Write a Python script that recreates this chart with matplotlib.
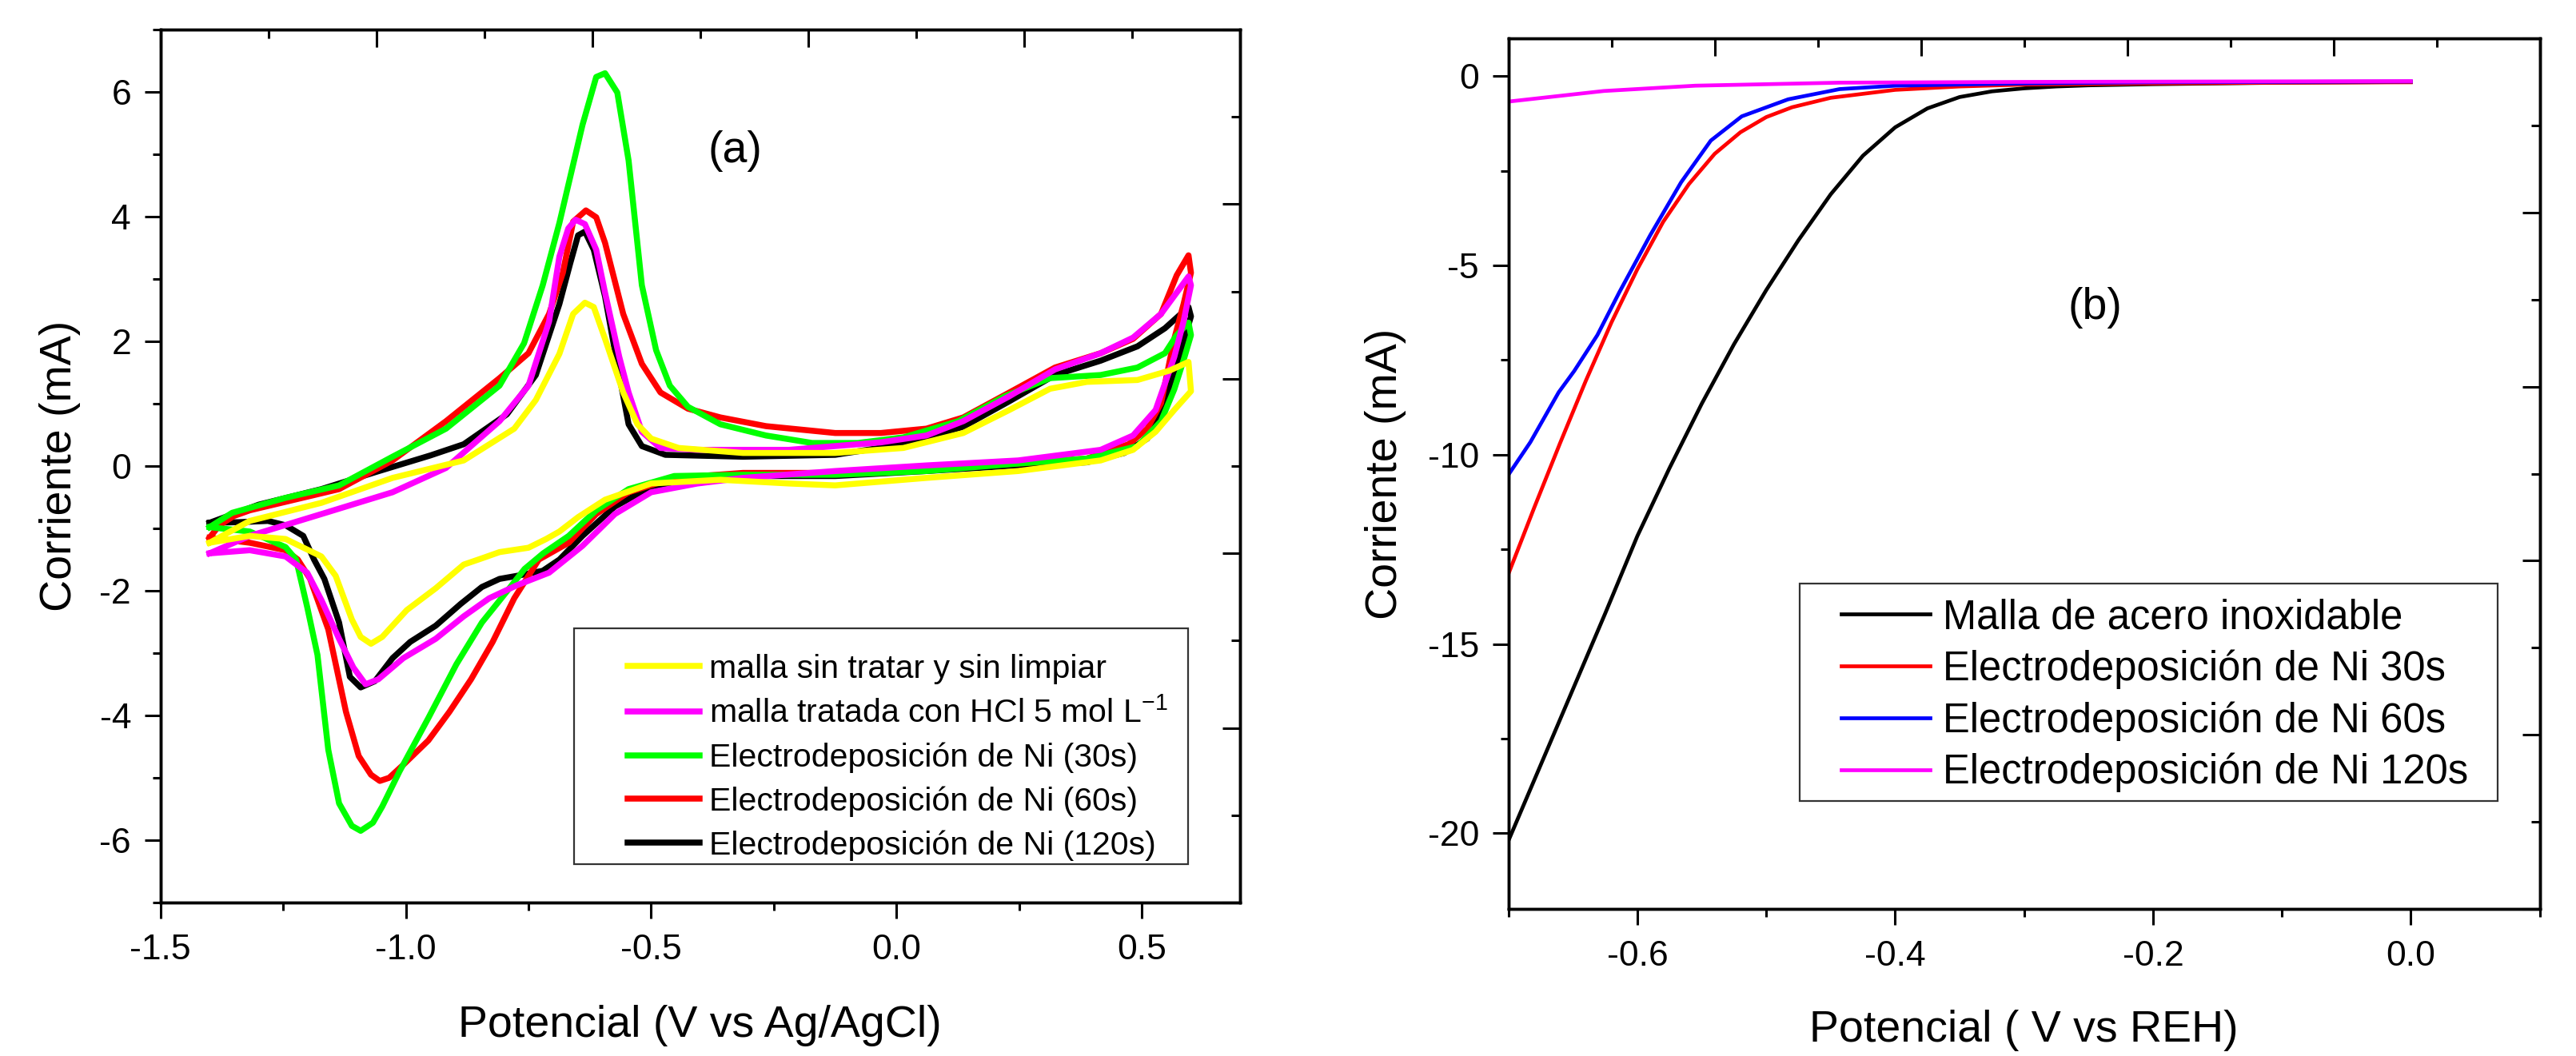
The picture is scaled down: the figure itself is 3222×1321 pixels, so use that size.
import matplotlib
matplotlib.use("Agg")
import matplotlib.pyplot as plt
from matplotlib.ticker import MultipleLocator, FormatStrFormatter
from matplotlib.patches import Rectangle

plt.rcParams['font.family'] = ['Liberation Sans', 'DejaVu Sans']
plt.rcParams['mathtext.fontset'] = 'custom'
plt.rcParams['mathtext.rm'] = 'Liberation Sans'
plt.rcParams['mathtext.it'] = 'Liberation Sans:italic'
plt.rcParams['axes.unicode_minus'] = False

# ---------------- Panel (a): cyclic voltammograms (V vs Ag/AgCl, mA) ----------------
cv_labels = ["malla sin tratar y sin limpiar",
             r"malla tratada con HCl 5 mol L$^{\mathregular{-1}}$",
             "Electrodeposición de Ni (30s)",
             "Electrodeposición de Ni (60s)",
             "Electrodeposición de Ni (120s)"]
cv_colors = ["#FFFF00", "#FF00FF", "#00FF00", "#FF0000", "#000000"]

yellow_v = [-1.40, -1.318, -1.172, -1.027, -0.882, -0.779, -0.735, -0.687, -0.659, -0.635, -0.617, -0.594,
            -0.557, -0.528, -0.500, -0.444, -0.313, -0.125, 0.014, 0.136, 0.230, 0.313, 0.388, 0.491, 0.556,
            0.595, 0.60, 0.566, 0.528, 0.482, 0.416, 0.248, 0.061, -0.125, -0.219, -0.359, -0.500, -0.594,
            -0.649, -0.687, -0.714, -0.750, -0.809, -0.845, -0.882, -0.939, -0.998, -1.048, -1.071, -1.092,
            -1.110, -1.143, -1.172, -1.245, -1.318, -1.40]
yellow_i = [-1.23, -0.88, -0.59, -0.19, 0.09, 0.60, 1.06, 1.80, 2.44, 2.62, 2.55, 2.04,
            1.18, 0.67, 0.44, 0.29, 0.21, 0.21, 0.29, 0.53, 0.90, 1.24, 1.35, 1.38, 1.53,
            1.67, 1.20, 0.90, 0.55, 0.26, 0.09, -0.08, -0.19, -0.31, -0.28, -0.22, -0.28, -0.54,
            -0.82, -1.05, -1.17, -1.31, -1.38, -1.48, -1.58, -1.96, -2.31, -2.74, -2.85, -2.74,
            -2.46, -1.76, -1.45, -1.17, -1.12, -1.23]

magenta_v = [-1.40, -1.318, -1.172, -1.027, -0.918, -0.809, -0.750, -0.708, -0.687, -0.669, -0.654, -0.635,
             -0.612, -0.594, -0.565, -0.546, -0.519, -0.481, -0.406, -0.219, -0.032, 0.061, 0.136, 0.230,
             0.323, 0.416, 0.482, 0.539, 0.595, 0.60, 0.585, 0.566, 0.528, 0.482, 0.416, 0.248, 0.061,
             -0.125, -0.313, -0.406, -0.500, -0.574, -0.640, -0.708, -0.773, -0.830, -0.882, -0.939, -1.005,
             -1.056, -1.082, -1.107, -1.136, -1.172, -1.201, -1.245, -1.318, -1.40]
magenta_i = [-1.40, -1.12, -0.77, -0.42, -0.03, 0.72, 1.29, 2.32, 3.36, 3.81, 3.95, 3.88,
             3.47, 2.78, 1.75, 1.18, 0.55, 0.29, 0.26, 0.26, 0.38, 0.49, 0.72, 1.12,
             1.55, 1.81, 2.06, 2.44, 3.04, 2.90, 2.32, 1.75, 0.90, 0.49, 0.26, 0.09, 0.01,
             -0.08, -0.19, -0.28, -0.42, -0.77, -1.28, -1.71, -1.91, -2.12, -2.41, -2.77, -3.08,
             -3.42, -3.50, -3.23, -2.77, -2.15, -1.71, -1.45, -1.35, -1.40]

green_v = [-1.40, -1.354, -1.245, -1.136, -1.027, -0.918, -0.809, -0.759, -0.721, -0.687, -0.640, -0.612,
           -0.594, -0.569, -0.546, -0.519, -0.490, -0.462, -0.425, -0.359, -0.266, -0.172, -0.079, 0.014,
           0.126, 0.221, 0.313, 0.416, 0.491, 0.547, 0.570, 0.595, 0.60, 0.585, 0.566, 0.539, 0.491, 0.388,
           0.248, 0.061, -0.125, -0.313, -0.453, -0.546, -0.612, -0.668, -0.720, -0.758, -0.794, -0.845,
           -0.897, -0.954, -1.013, -1.048, -1.067, -1.092, -1.110, -1.136, -1.158, -1.180, -1.201, -1.2235,
           -1.245, -1.318, -1.40]
green_i = [-0.98, -0.75, -0.51, -0.31, 0.15, 0.60, 1.29, 1.97, 2.90, 3.90, 5.47, 6.24,
           6.30, 5.99, 4.90, 2.90, 1.86, 1.29, 0.95, 0.67, 0.49, 0.37, 0.37, 0.46,
           0.72, 1.12, 1.41, 1.46, 1.58, 1.81, 2.09, 2.30, 2.10, 1.70, 1.23, 0.72, 0.32, 0.12,
           0.04, -0.08, -0.14, -0.14, -0.16, -0.37, -0.71, -1.12, -1.40, -1.65, -2.01, -2.51,
           -3.18, -4.04, -4.90, -5.46, -5.72, -5.85, -5.77, -5.41, -4.55, -3.03, -2.26, -1.50,
           -1.30, -1.05, -0.98]

red_v = [-1.40, -1.38, -1.35, -1.318, -1.136, -1.027, -0.918, -0.809, -0.750, -0.708, -0.680, -0.659,
         -0.633, -0.612, -0.594, -0.557, -0.519, -0.481, -0.425, -0.359, -0.266, -0.125, -0.032, 0.061,
         0.136, 0.230, 0.323, 0.416, 0.482, 0.539, 0.571, 0.595, 0.60, 0.585, 0.566, 0.539, 0.511, 0.473,
         0.388, 0.248, 0.061, -0.125, -0.313, -0.453, -0.546, -0.612, -0.668, -0.729, -0.779, -0.823,
         -0.867, -0.911, -0.954, -1.005, -1.034, -1.053, -1.071, -1.096, -1.122, -1.158, -1.195, -1.220,
         -1.245, -1.318, -1.40]
red_i = [-1.15, -0.95, -0.80, -0.71, -0.37, 0.09, 0.72, 1.41, 1.81, 2.44, 3.10, 3.92,
         4.10, 3.99, 3.58, 2.44, 1.64, 1.18, 0.92, 0.78, 0.64, 0.53, 0.53, 0.60,
         0.78, 1.18, 1.58, 1.81, 2.04, 2.44, 3.06, 3.38, 3.10, 2.60, 2.04, 1.01, 0.60, 0.35,
         0.12, 0.04, -0.03, -0.11, -0.11, -0.19, -0.42, -0.77, -1.23, -1.50, -2.12, -2.82,
         -3.42, -3.94, -4.40, -4.79, -5.00, -5.05, -4.95, -4.65, -3.94, -2.62, -1.81, -1.50,
         -1.35, -1.23, -1.15]

black_v = [-1.40, -1.30, -1.172, -1.063, -0.950, -0.882, -0.794, -0.735, -0.687, -0.665, -0.649, -0.635,
           -0.617, -0.594, -0.565, -0.546, -0.519, -0.471, -0.313, -0.125, 0.014, 0.136, 0.230, 0.323,
           0.416, 0.491, 0.547, 0.595, 0.60, 0.576, 0.547, 0.511, 0.464, 0.388, 0.248, 0.061, -0.125,
           -0.313, -0.406, -0.500, -0.574, -0.640, -0.687, -0.721, -0.773, -0.809, -0.845, -0.888, -0.939,
           -0.991, -1.027, -1.063, -1.092, -1.114, -1.136, -1.166, -1.187, -1.209, -1.245, -1.281, -1.34,
           -1.40]
black_i = [-0.91, -0.62, -0.37, -0.10, 0.17, 0.35, 0.83, 1.46, 2.60, 3.25, 3.70, 3.76,
           3.47, 2.72, 1.46, 0.67, 0.32, 0.18, 0.15, 0.18, 0.35, 0.63, 1.04, 1.46,
           1.69, 1.92, 2.21, 2.55, 2.40, 1.75, 1.06, 0.44, 0.21, 0.06, 0.01, -0.08, -0.16,
           -0.16, -0.19, -0.33, -0.65, -1.12, -1.50, -1.68, -1.76, -1.81, -1.94, -2.21, -2.56,
           -2.82, -3.08, -3.45, -3.55, -3.38, -2.51, -1.81, -1.50, -1.12, -0.95, -0.88, -0.90,
           -0.91]

# ---------------- Panel (b): linear sweep voltammograms (V vs REH, mA) ----------------
lsv_labels = ["Malla de acero inoxidable", "Electrodeposición de Ni 30s",
              "Electrodeposición de Ni 60s", "Electrodeposición de Ni 120s"]
lsv_colors = ["#000000", "#FF0000", "#0000FF", "#FF00FF"]

lsv_black_v = [-0.700, -0.675, -0.650, -0.625, -0.600, -0.575, -0.550, -0.525, -0.500, -0.475, -0.450,
               -0.425, -0.400, -0.375, -0.350, -0.325, -0.300, -0.275, -0.250, -0.200, -0.150, -0.100,
               -0.050, 0.0]
lsv_black_i = [-20.20, -18.20, -16.20, -14.20, -12.15, -10.35, -8.65, -7.08, -5.65, -4.33, -3.12,
               -2.10, -1.35, -0.85, -0.55, -0.40, -0.32, -0.27, -0.24, -0.21, -0.19, -0.17,
               -0.16, -0.15]

lsv_red_v = [-0.70, -0.68, -0.66, -0.64, -0.62, -0.60, -0.58, -0.56, -0.54, -0.52, -0.50, -0.48,
             -0.45, -0.40, -0.35, -0.30, -0.20, -0.10, 0.0]
lsv_red_i = [-13.15, -11.40, -9.70, -8.05, -6.50, -5.10, -3.85, -2.85, -2.05, -1.48, -1.08, -0.82,
             -0.57, -0.36, -0.27, -0.22, -0.19, -0.17, -0.16]

lsv_blue_v = [-0.70, -0.683, -0.661, -0.649, -0.631, -0.614, -0.590, -0.566, -0.543, -0.519, -0.483,
              -0.443, -0.40, -0.30, -0.20, -0.10, 0.0]
lsv_blue_i = [-10.53, -9.67, -8.35, -7.79, -6.84, -5.71, -4.20, -2.80, -1.70, -1.06, -0.61,
              -0.34, -0.25, -0.19, -0.16, -0.15, -0.14]

lsv_mag_v = [-0.70, -0.626, -0.555, -0.443, -0.30, 0.0]
lsv_mag_i = [-0.67, -0.39, -0.25, -0.17, -0.15, -0.13]

# ------------------------------------------------------------------------------------
fig = plt.figure(figsize=(32.23, 13.21), dpi=100)
ax_a = fig.add_axes([0.06227, 0.14534, 0.41896, 0.82665])
ax_b = fig.add_axes([0.58538, 0.13929, 0.40025, 0.82437])

SP_LW = 2.4
TICK_W = 2.2


def style_axes(ax, xlim, ylim, xmaj, xmin, ymaj, ymin, xfmt, yfmt):
    ax.set_xlim(*xlim)
    ax.set_ylim(*ylim)
    ax.xaxis.set_major_locator(MultipleLocator(xmaj))
    ax.xaxis.set_minor_locator(MultipleLocator(xmin))
    ax.yaxis.set_major_locator(MultipleLocator(ymaj))
    ax.yaxis.set_minor_locator(MultipleLocator(ymin))
    ax.xaxis.set_major_formatter(FormatStrFormatter(xfmt))
    ax.yaxis.set_major_formatter(FormatStrFormatter(yfmt))
    for s in ax.spines.values():
        s.set_linewidth(SP_LW)
    ax.tick_params(axis='both', which='major', direction='out', length=14.4, width=TICK_W,
                   labelsize=32)
    ax.tick_params(axis='both', which='minor', direction='out', length=7.2, width=TICK_W)
    ax.tick_params(axis='x', which='major', pad=14)
    ax.tick_params(axis='y', which='major', pad=12)
    ax.tick_params(top=False, right=False, which='both')
    # Origin-style linked top / right axes (0..10), ticks inside, no labels
    axt = ax.twiny()
    axt.set_xlim(0, 10)
    axt.xaxis.set_major_locator(MultipleLocator(2))
    axt.xaxis.set_minor_locator(MultipleLocator(1))
    axt.tick_params(axis='x', which='major', direction='in', length=15.8, width=TICK_W,
                    labeltop=False, top=True, bottom=False)
    axt.tick_params(axis='x', which='minor', direction='in', length=7.9, width=TICK_W,
                    top=True, bottom=False)
    axr = ax.twinx()
    axr.set_ylim(0, 10)
    axr.yaxis.set_major_locator(MultipleLocator(2))
    axr.yaxis.set_minor_locator(MultipleLocator(1))
    axr.tick_params(axis='y', which='major', direction='in', length=15.8, width=TICK_W,
                    labelright=False, right=True, left=False)
    axr.tick_params(axis='y', which='minor', direction='in', length=7.9, width=TICK_W,
                    right=True, left=False)
    for t in (axt, axr):
        for s in t.spines.values():
            s.set_linewidth(SP_LW)
        t.patch.set_visible(False)
    return axr


axr_a = style_axes(ax_a, (-1.5, 0.7), (-7, 7), 0.5, 0.25, 2, 1, '%.1f', '%d')
axr_b = style_axes(ax_b, (-0.7, 0.1), (-22, 1), 0.2, 0.1, 5, 2.5, '%.1f', '%d')

# Panel (a) curves (drawn so yellow ends on top)
cv_v = [yellow_v, magenta_v, green_v, red_v, black_v]
cv_i = [yellow_i, magenta_i, green_i, red_i, black_i]
handles_a = [None] * 5
for k in [4, 3, 2, 1, 0]:
    ln, = ax_a.plot(cv_v[k], cv_i[k], color=cv_colors[k], lw=5.4, label=cv_labels[k],
                    solid_joinstyle='round', zorder=2 + (4 - k))
    handles_a[k] = ln

# legend frame drawn as a box in axes coordinates, entries placed inside
box_a = Rectangle((0.3832, 0.0440), 0.5688, 0.2701, transform=ax_a.transAxes,
                  facecolor='white', edgecolor='#333333', lw=1.6, zorder=15)
ax_a.add_patch(box_a)
leg_a = ax_a.legend(handles=handles_a, labels=cv_labels, loc='upper left',
                    bbox_to_anchor=(0.4327, 0.285), fontsize=29.5, labelspacing=0.40,
                    borderpad=0, handlelength=2.2, handletextpad=0.3, frameon=False,
                    borderaxespad=0)
leg_a.set_zorder(20)

ax_a.text(0.532, 0.861, "(a)", transform=ax_a.transAxes, fontsize=40, ha='center', va='center')
ax_a.set_xlabel("Potencial (V vs Ag/AgCl)", fontsize=40)
ax_a.xaxis.set_label_coords(0.5, -0.1538)
ax_a.xaxis.label.set_va('baseline')
ax_a.set_ylabel("Corriente (mA)", fontsize=40)
ax_a.yaxis.set_label_coords(-0.0931, 0.5)
ax_a.yaxis.label.set_va('center')

# Panel (b) curves
lsv_v = [lsv_black_v, lsv_red_v, lsv_blue_v, lsv_mag_v]
lsv_i = [lsv_black_i, lsv_red_i, lsv_blue_i, lsv_mag_i]
handles_b = []
for k in range(4):
    ln, = ax_b.plot(lsv_v[k], lsv_i[k], color=lsv_colors[k], lw=3.4, label=lsv_labels[k],
                    solid_joinstyle='round', zorder=2 + k)
    handles_b.append(ln)

box_b = Rectangle((0.2824, 0.1240), 0.6767, 0.2498, transform=ax_b.transAxes,
                  facecolor='white', edgecolor='#333333', lw=1.6, zorder=15)
ax_b.add_patch(box_b)
leg_b = ax_b.legend(handles=handles_b, labels=lsv_labels, loc='upper left',
                    bbox_to_anchor=(0.3227, 0.357), fontsize=36.5, labelspacing=0.30,
                    borderpad=0, handlelength=2.2, handletextpad=0.3, frameon=False,
                    borderaxespad=0)
leg_b.set_zorder(20)

ax_b.text(0.569, 0.691, "(b)", transform=ax_b.transAxes, fontsize=40, ha='center', va='center')
ax_b.set_xlabel("Potencial ( V vs REH)", fontsize=40)
ax_b.xaxis.set_label_coords(0.5, -0.1524)
ax_b.xaxis.label.set_va('baseline')
ax_b.set_ylabel("Corriente (mA)", fontsize=40)
ax_b.yaxis.set_label_coords(-0.119, 0.5)
ax_b.yaxis.label.set_va('center')

fig.savefig("out.png", dpi=100, facecolor='white')
